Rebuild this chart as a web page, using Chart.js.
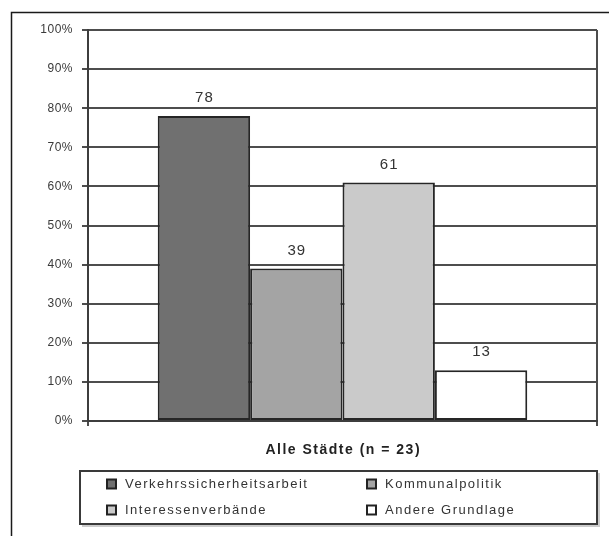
<!DOCTYPE html>
<html>
<head>
<meta charset="utf-8">
<script src="https://cdn.jsdelivr.net/npm/chart.js@4/dist/chart.umd.min.js"></script>
<style>
  html, body { margin: 0; padding: 0; background: #fff; }
  #wrap { position: relative; width: 609px; height: 536px; overflow: hidden; }
</style>
</head>
<body>
<div id="wrap"><canvas id="c" width="609" height="536"></canvas></div>
<script>
// Categories, series and tick values
const categories = ['Alle Städte (n = 23)'];
const seriesNames = ['Verkehrssicherheitsarbeit', 'Kommunalpolitik', 'Interessenverbände', 'Andere Grundlage'];
const verkehrssicherheitsarbeit = [78];
const kommunalpolitik = [39];
const interessenverbaende = [61];
const andereGrundlage = [13];
const seriesValues = [verkehrssicherheitsarbeit, kommunalpolitik, interessenverbaende, andereGrundlage];
const seriesColors = ['#707070', '#a4a4a4', '#cacaca', '#ffffff'];
const yTickValues = [0, 10, 20, 30, 40, 50, 60, 70, 80, 90, 100];

const FONT = '"Liberation Sans", Arial, Helvetica, sans-serif';

function spacedText(ctx, text, x, y, spacing, align) {
  ctx.save();
  ctx.letterSpacing = spacing + 'px';
  ctx.textAlign = align;
  let dx = 0;
  if (align === 'center') dx = spacing / 2;
  else if (align === 'right') dx = spacing;
  ctx.fillText(text, x + dx, y);
  ctx.restore();
}

// Outer frame, value labels, category label and boxed legend
const decorations = {
  id: 'decorations',
  beforeDraw(chart) {
    const ctx = chart.ctx;
    ctx.letterSpacing = '0.5px';
    ctx.save();
    ctx.strokeStyle = '#1a1a1a';
    ctx.lineWidth = 1.5;
    ctx.strokeRect(11.5, 12.5, 800, 800);
    ctx.restore();
  },
  afterDatasetsDraw(chart) {
    const ctx = chart.ctx;
    ctx.save();
    ctx.font = '15px ' + FONT;
    ctx.fillStyle = '#333';
    ctx.textBaseline = 'middle';
    chart.data.datasets.forEach((ds, i) => {
      const meta = chart.getDatasetMeta(i);
      meta.data.forEach((bar, j) => {
        spacedText(ctx, String(ds.data[j]), bar.x, bar.y - 18, 1, 'center');
      });
    });
    ctx.restore();
  },
  afterDraw(chart) {
    const ctx = chart.ctx;
    const xs = chart.scales.x;
    ctx.save();
    // category label under the bars
    ctx.font = 'bold 14px ' + FONT;
    ctx.fillStyle = '#222';
    ctx.textBaseline = 'middle';
    chart.data.labels.forEach((lab, i) => {
      spacedText(ctx, lab, xs.getPixelForTick(i), 450, 1.5, 'center');
    });
    // legend box
    ctx.strokeStyle = '#3a3a3a';
    ctx.lineWidth = 2;
    ctx.strokeRect(80, 471, 517, 53);
    ctx.strokeStyle = 'rgba(0,0,0,0.2)';
    ctx.lineWidth = 2;
    ctx.beginPath();
    ctx.moveTo(82, 526);
    ctx.lineTo(599, 526);
    ctx.lineTo(599, 473);
    ctx.stroke();
    const colX = [107, 367];
    const rowY = [484, 510];
    ctx.font = '13px ' + FONT;
    ctx.textBaseline = 'middle';
    chart.data.datasets.forEach((ds, i) => {
      const cx = colX[i % 2];
      const cy = rowY[Math.floor(i / 2)];
      ctx.fillStyle = ds.backgroundColor;
      ctx.fillRect(cx, cy - 4.5, 9, 9);
      ctx.strokeStyle = '#222';
      ctx.lineWidth = 2;
      ctx.strokeRect(cx, cy - 4.5, 9, 9);
      ctx.fillStyle = '#333';
      spacedText(ctx, ds.label, cx + 18, cy, 1.5, 'left');
    });
    ctx.restore();
  }
};

new Chart(document.getElementById('c'), {
  type: 'bar',
  data: {
    labels: categories,
    datasets: seriesNames.map((name, i) => ({
      label: name,
      data: seriesValues[i],
      backgroundColor: seriesColors[i],
      borderColor: '#262626',
      borderWidth: 2,
      borderSkipped: false,
      barPercentage: 1,
      categoryPercentage: 0.726
    }))
  },
  options: {
    responsive: false,
    animation: false,
    layout: { padding: { top: 30, right: 12, left: 0, bottom: 0 } },
    plugins: {
      legend: { display: false },
      tooltip: { enabled: false }
    },
    scales: {
      x: {
        offset: true,
        grid: { color: '#4d4d4d', lineWidth: 2, tickLength: 5, offset: true, drawOnChartArea: true },
        border: { color: '#3d3d3d', width: 2 },
        ticks: { display: false },
        afterFit(scale) { scale.height = 115; }
      },
      y: {
        min: 0,
        max: 100,
        afterBuildTicks(scale) { scale.ticks = yTickValues.map(v => ({ value: v })); },
        ticks: {
          callback: v => v + '%',
          font: { family: FONT, size: 12 },
          color: '#3a3a3a',
          padding: 9
        },
        grid: { color: '#4d4d4d', lineWidth: 2, tickLength: 6 },
        border: { color: '#3d3d3d', width: 2 },
        afterFit(scale) { scale.width = 88; }
      }
    }
  },
  plugins: [decorations]
});
</script>
</body>
</html>
